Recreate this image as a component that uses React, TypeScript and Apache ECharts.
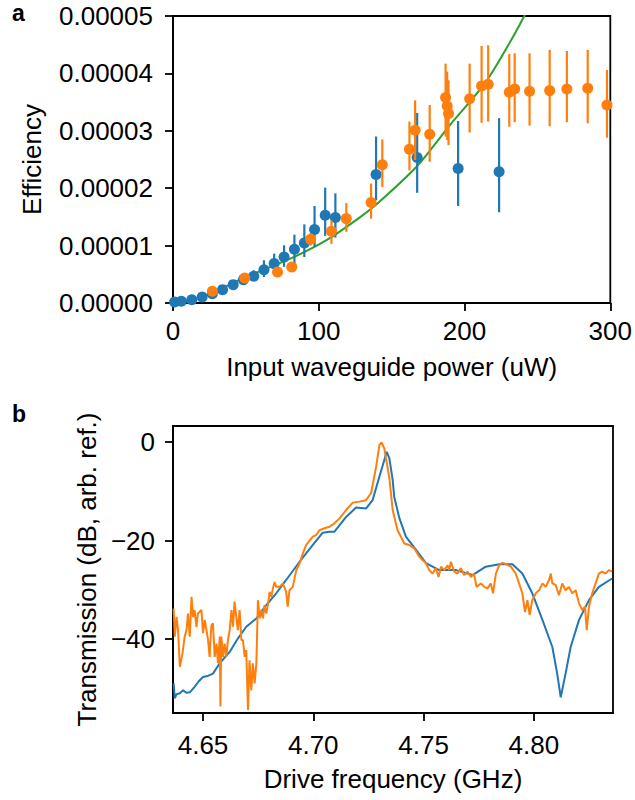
import React, { useEffect, useRef } from "react";
import * as echarts from "echarts";

// ---------- Panel a data ----------
const blueX = [1.1, 5.7, 12.9, 20.0, 27.0, 34.0, 41.3, 48.3, 55.4, 62.4, 69.4, 76.2, 83.3, 90.1, 97.1, 104.4, 111.4, 139.3, 167.5, 195.6, 223.7];
const blueY = [1.7e-7, 2.9e-7, 5.8e-7, 1.05e-6, 1.63e-6, 2.33e-6, 3.2e-6, 4.07e-6, 4.65e-6, 5.81e-6, 6.86e-6, 8.02e-6, 9.36e-6, 1.047e-5, 1.279e-5, 1.529e-5, 1.488e-5, 2.238e-5, 2.535e-5, 2.343e-5, 2.285e-5];
const blueLo = [1.7e-7, 2.9e-7, 5.8e-7, 1.05e-6, 1.63e-6, 2.33e-6, 3.2e-6, 3.7e-6, 3.95e-6, 4.53e-6, 5.1e-6, 6.3e-6, 6.9e-6, 8.0e-6, 9.8e-6, 1.17e-5, 1.14e-5, 1.79e-5, 1.92e-5, 1.69e-5, 1.58e-5];
const blueHi = [1.7e-7, 2.9e-7, 5.8e-7, 1.05e-6, 1.63e-6, 2.33e-6, 3.2e-6, 4.5e-6, 5.7e-6, 7.44e-6, 8.6e-6, 1.006e-5, 1.19e-5, 1.37e-5, 1.69e-5, 2.01e-5, 1.91e-5, 2.9e-5, 3.31e-5, 3.17e-5, 3.22e-5];

const orangeX = [27.0, 49.2, 71.7, 81.5, 94.4, 108.7, 118.9, 135.9, 143.6, 162.2, 166.1, 176.1, 187.0, 188.1, 189.0, 203.5, 211.7, 216.2, 230.7, 234.4, 244.6, 258.4, 270.2, 284.5, 297.7];
const orangeY = [2.03e-6, 4.36e-6, 5.41e-6, 6.28e-6, 1.11e-5, 1.25e-5, 1.47e-5, 1.75e-5, 2.41e-5, 2.68e-5, 3.01e-5, 2.94e-5, 3.58e-5, 3.43e-5, 3.3e-5, 3.56e-5, 3.78e-5, 3.81e-5, 3.67e-5, 3.73e-5, 3.69e-5, 3.7e-5, 3.73e-5, 3.74e-5, 3.45e-5];
const orangeLo = [2.03e-6, 4.36e-6, 5.41e-6, 6.28e-6, 1.0e-5, 1.03e-5, 1.24e-5, 1.47e-5, 2.02e-5, 2.31e-5, 2.49e-5, 2.46e-5, 2.9e-5, 2.84e-5, 2.75e-5, 2.97e-5, 3.14e-5, 3.16e-5, 3.07e-5, 3.15e-5, 3.09e-5, 3.08e-5, 3.15e-5, 3.13e-5, 2.88e-5];
const orangeHi = [2.03e-6, 4.36e-6, 5.41e-6, 6.28e-6, 1.22e-5, 1.44e-5, 1.74e-5, 2.08e-5, 2.85e-5, 3.16e-5, 3.53e-5, 3.45e-5, 4.17e-5, 4.03e-5, 3.88e-5, 4.17e-5, 4.48e-5, 4.49e-5, 4.34e-5, 4.35e-5, 4.35e-5, 4.41e-5, 4.39e-5, 4.41e-5, 4.06e-5];

const fitX = [0, 20, 48, 82, 105, 127, 141, 168, 189, 214, 232, 241, 250];
const fitY = [0, 1.05e-6, 4.3e-6, 7.9e-6, 1.09e-5, 1.47e-5, 1.75e-5, 2.4e-5, 3.07e-5, 3.83e-5, 4.58e-5, 5.0e-5, 5.45e-5];

const aXTicks = [0, 100, 200, 300];
const aYTicks = [0, 1e-5, 2e-5, 3e-5, 4e-5, 5e-5];

// ---------- Panel b data ----------
const bBlueF = [4.6367, 4.6372, 4.6380, 4.6395, 4.6410, 4.6425, 4.6440, 4.6462, 4.6480, 4.6500, 4.6520, 4.6545, 4.6576, 4.6621, 4.6658, 4.6696, 4.6742, 4.6787, 4.6832, 4.6877, 4.6938, 4.6998, 4.7043, 4.7073, 4.7096, 4.7149, 4.7194, 4.7239, 4.7269, 4.7300, 4.7333, 4.7345, 4.7360, 4.7367, 4.7390, 4.7420, 4.7466, 4.7511, 4.7571, 4.7647, 4.7722, 4.7782, 4.7843, 4.7903, 4.7948, 4.7993, 4.8039, 4.8084, 4.8106, 4.8122, 4.8144, 4.8167, 4.8205, 4.8250, 4.8295, 4.8355];
const bBlueDb = [-49.0, -52.0, -51.2, -51.0, -50.4, -50.9, -50.8, -49.7, -48.6, -47.7, -47.5, -47.0, -44.9, -42.6, -39.9, -37.5, -35.8, -33.1, -30.7, -28.0, -24.3, -20.9, -18.4, -18.2, -18.2, -15.2, -13.3, -13.5, -11.8, -7.0, -2.0, -3.3, -7.7, -11.1, -15.4, -19.2, -21.9, -24.6, -26.0, -26.0, -27.0, -25.3, -24.8, -24.8, -26.7, -30.7, -36.1, -41.6, -47.0, -51.8, -47.0, -41.6, -36.1, -32.1, -29.4, -27.7];

const bOrangeF = [4.6367, 4.6372, 4.6380, 4.6387, 4.6395, 4.6407, 4.6417, 4.6425, 4.6432, 4.6440, 4.6448, 4.6455, 4.6462, 4.6470, 4.6477, 4.6493, 4.6500, 4.6508, 4.6523, 4.6530, 4.6538, 4.6545, 4.6553, 4.6561, 4.6568, 4.6576, 4.6579, 4.6583, 4.6591, 4.6598, 4.6606, 4.6613, 4.6621, 4.6629, 4.6636, 4.6643, 4.6651, 4.6658, 4.6666, 4.6674, 4.6681, 4.6689, 4.6696, 4.6704, 4.6711, 4.6719, 4.6726, 4.6734, 4.6742, 4.6749, 4.6757, 4.6764, 4.6772, 4.6779, 4.6787, 4.6794, 4.6802, 4.6810, 4.6817, 4.6825, 4.6832, 4.6847, 4.6862, 4.6877, 4.6884, 4.6892, 4.6907, 4.6923, 4.6938, 4.6953, 4.6968, 4.6998, 4.7013, 4.7028, 4.7051, 4.7073, 4.7096, 4.7119, 4.7149, 4.7179, 4.7209, 4.7239, 4.7262, 4.7285, 4.7300, 4.7310, 4.7322, 4.7345, 4.7360, 4.7382, 4.7413, 4.7435, 4.7458, 4.7481, 4.7496, 4.7511, 4.7526, 4.7541, 4.7556, 4.7568, 4.7579, 4.7594, 4.7609, 4.7616, 4.7624, 4.7639, 4.7654, 4.7669, 4.7684, 4.7699, 4.7715, 4.7729, 4.7740, 4.7760, 4.7775, 4.7790, 4.7805, 4.7815, 4.7828, 4.7843, 4.7858, 4.7873, 4.7896, 4.7918, 4.7933, 4.7948, 4.7960, 4.7971, 4.7981, 4.7993, 4.8009, 4.8024, 4.8039, 4.8054, 4.8069, 4.8077, 4.8084, 4.8099, 4.8114, 4.8129, 4.8144, 4.8159, 4.8174, 4.8190, 4.8205, 4.8220, 4.8232, 4.8240, 4.8250, 4.8265, 4.8280, 4.8295, 4.8310, 4.8325, 4.8340, 4.8355];
const bOrangeDb = [-33.8, -39.5, -35.5, -38.2, -45.6, -42.9, -39.5, -38.2, -34.8, -39.5, -31.4, -35.5, -34.1, -37.5, -34.8, -34.1, -38.8, -36.1, -40.2, -43.6, -37.2, -36.8, -43.6, -40.9, -44.9, -39.5, -53.7, -39.5, -43.6, -40.9, -43.6, -40.2, -38.2, -34.1, -37.5, -32.4, -35.5, -38.2, -34.1, -40.2, -40.2, -43.6, -42.2, -54.4, -44.3, -50.4, -44.9, -49.0, -44.9, -32.1, -35.8, -34.1, -35.8, -33.1, -34.8, -33.1, -30.4, -31.4, -29.7, -28.4, -29.4, -29.4, -28.7, -30.4, -33.4, -30.1, -29.4, -26.0, -24.6, -22.6, -20.9, -19.2, -18.9, -17.9, -17.5, -17.2, -16.5, -15.5, -13.8, -12.3, -12.1, -11.8, -10.4, -5.0, -0.6, -0.1, -1.3, -7.3, -13.8, -17.9, -20.6, -20.9, -21.6, -23.3, -24.0, -24.6, -26.0, -26.7, -25.6, -27.4, -25.3, -26.0, -25.0, -26.0, -24.3, -26.3, -26.7, -25.6, -27.0, -26.3, -27.4, -26.7, -29.4, -28.7, -29.4, -29.7, -28.7, -30.7, -26.7, -25.0, -24.5, -24.8, -25.3, -26.7, -28.7, -30.7, -34.5, -32.1, -35.1, -32.1, -30.7, -30.1, -28.7, -29.4, -28.0, -26.7, -28.7, -29.0, -31.1, -28.7, -30.1, -29.4, -30.7, -30.1, -32.8, -34.1, -33.4, -38.2, -33.4, -30.7, -28.7, -26.7, -26.3, -26.7, -26.0, -26.3];

const bXTicks = [4.65, 4.7, 4.75, 4.8];
const bYTicks = [-40, -20, 0];

const BLUE = "#1f77b4";
const ORANGE = "#ff7f0e";
const GREEN = "#2ca02c";
const FONT = "Liberation Sans, Arial, Helvetica, sans-serif";
const FS = 26;

function zip(a: number[], b: number[]) {
  return a.map((v, i) => [v, b[i]]);
}
function zip3(a: number[], b: number[], c: number[]) {
  return a.map((v, i) => [v, b[i], c[i]]);
}

function errSeries(data: number[][], color: string, z: number) {
  return {
    type: "custom",
    xAxisIndex: 0,
    yAxisIndex: 0,
    data,
    encode: { x: 0, y: [1, 2] },
    z,
    renderItem: (params: any, api: any) => {
      const x = api.value(0);
      const p1 = api.coord([x, api.value(1)]);
      const p2 = api.coord([x, api.value(2)]);
      return {
        type: "line",
        shape: { x1: p1[0], y1: p1[1], x2: p2[0], y2: p2[1] },
        style: { stroke: color, lineWidth: 2.2 },
      };
    },
  };
}

const tickCommon = {
  show: true,
  inside: false,
  length: 8,
  lineStyle: { color: "#000", width: 1.8 },
};
const axisLineCommon = { show: true, onZero: false, lineStyle: { color: "#000", width: 1.8 } };

export default function App() {
  const ref = useRef<HTMLDivElement>(null);
  useEffect(() => {
    if (!ref.current) return;
    const chart = echarts.init(ref.current, null, { renderer: "svg" });
    const labelStyle = { color: "#000", fontSize: FS, fontFamily: FONT };
    const nameStyle = { color: "#000", fontSize: FS, fontFamily: FONT };
    chart.setOption({
      animation: false,
      backgroundColor: "#fff",
      grid: [
        { left: 173, top: 16, width: 440, height: 287, show: true, borderColor: "#000", borderWidth: 1.8, backgroundColor: "transparent" },
        { left: 173, top: 426, width: 440, height: 287, show: true, borderColor: "#000", borderWidth: 1.8, backgroundColor: "transparent" },
      ],
      xAxis: [
        {
          gridIndex: 0,
          type: "value",
          min: 0,
          max: 300,
          interval: 100,
          splitLine: { show: false },
          axisLine: axisLineCommon,
          axisTick: tickCommon,
          axisLabel: { ...labelStyle, margin: 15, customValues: aXTicks },
          name: "Input waveguide power (uW)",
          nameLocation: "middle",
          nameGap: 51,
          nameTextStyle: nameStyle,
        },
        {
          gridIndex: 1,
          type: "value",
          min: 4.6364,
          max: 4.8359,
          splitLine: { show: false },
          axisLine: axisLineCommon,
          axisTick: { ...tickCommon, customValues: bXTicks },
          axisLabel: { ...labelStyle, margin: 19, customValues: bXTicks, formatter: (v: number) => v.toFixed(2) },
          name: "Drive frequency (GHz)",
          nameLocation: "middle",
          nameGap: 53,
          nameTextStyle: nameStyle,
        },
      ],
      yAxis: [
        {
          gridIndex: 0,
          type: "value",
          min: 0,
          max: 5e-5,
          splitLine: { show: false },
          axisLine: axisLineCommon,
          axisTick: { ...tickCommon, customValues: aYTicks },
          axisLabel: { ...labelStyle, margin: 20, customValues: aYTicks, formatter: (v: number) => v.toFixed(5) },
          name: "Efficiency",
          nameLocation: "middle",
          nameGap: 128,
          nameTextStyle: nameStyle,
        },
        {
          gridIndex: 1,
          type: "value",
          min: -55,
          max: 3.25,
          splitLine: { show: false },
          axisLine: axisLineCommon,
          axisTick: { ...tickCommon, customValues: bYTicks },
          axisLabel: {
            ...labelStyle,
            margin: 18,
            customValues: bYTicks,
            formatter: (v: number) => (v < 0 ? "\u2212" + Math.abs(v) : String(v)),
          },
          name: "Transmission (dB, arb. ref.)",
          nameLocation: "middle",
          nameGap: 73,
          nameTextStyle: nameStyle,
        },
      ],
      graphic: [
        { type: "text", left: 12, top: 1, style: { text: "a", fontSize: 23, fontWeight: "bold", fontFamily: FONT, fill: "#000" } },
        { type: "text", left: 12, top: 402, style: { text: "b", fontSize: 23, fontWeight: "bold", fontFamily: FONT, fill: "#000" } },
      ],
      series: [
        {
          type: "line",
          xAxisIndex: 0,
          yAxisIndex: 0,
          data: zip(fitX, fitY),
          showSymbol: false,
          smooth: 0.3,
          clip: true,
          lineStyle: { color: GREEN, width: 2 },
          z: 1,
        },
        errSeries(zip3(blueX, blueLo, blueHi), BLUE, 2),
        {
          type: "scatter",
          xAxisIndex: 0,
          yAxisIndex: 0,
          data: zip(blueX, blueY),
          symbolSize: 11,
          itemStyle: { color: BLUE, opacity: 1 },
          z: 3,
        },
        errSeries(zip3(orangeX, orangeLo, orangeHi), ORANGE, 4),
        {
          type: "scatter",
          xAxisIndex: 0,
          yAxisIndex: 0,
          data: zip(orangeX, orangeY),
          symbolSize: 11,
          itemStyle: { color: ORANGE, opacity: 1 },
          z: 5,
        },
        {
          type: "line",
          xAxisIndex: 1,
          yAxisIndex: 1,
          data: zip(bBlueF, bBlueDb),
          showSymbol: false,
          clip: true,
          lineStyle: { color: BLUE, width: 2 },
          z: 2,
        },
        {
          type: "line",
          xAxisIndex: 1,
          yAxisIndex: 1,
          data: zip(bOrangeF, bOrangeDb),
          showSymbol: false,
          clip: true,
          lineStyle: { color: ORANGE, width: 2 },
          z: 3,
        },
      ],
    });
    return () => chart.dispose();
  }, []);
  return <div ref={ref} style={{ position: "fixed", left: 0, top: 0, width: 635, height: 800, background: "#fff" }} />;
}
